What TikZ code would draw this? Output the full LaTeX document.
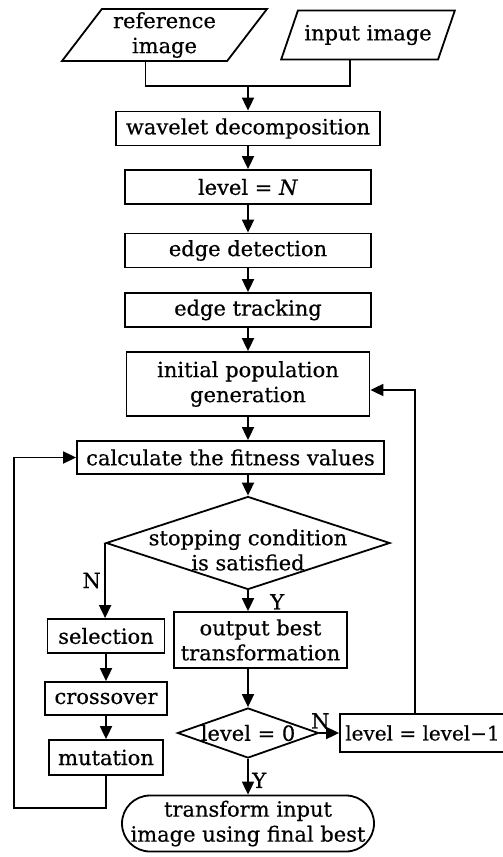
\documentclass[tikz,border=0pt]{standalone}
\usepackage{fontspec}
\setmainfont{DejaVu Serif}[FakeBold=0.5]
\usetikzlibrary{arrows.meta,shapes.geometric,positioning}

\begin{document}
\begin{tikzpicture}[
    x=1pt, y=-1pt,
    font=\fontsize{21}{25}\selectfont,
    line width=1.8pt,
    process node/.style={rectangle,draw,minimum height=34pt,inner sep=2pt,align=center},
    data node/.style={trapezium,trapezium left angle=55,trapezium right angle=125,trapezium stretches=true,draw,inner sep=1pt,align=center},
    decision node/.style={diamond,draw,inner sep=0pt},
    end node/.style={rectangle,rounded corners=28pt,draw,minimum height=56pt,inner sep=2pt,align=center},
    flow/.style={-{Triangle[length=13pt,width=12pt]}}]

  \useasboundingbox (0,0) rectangle (503,857);

  \node[data node,minimum width=205pt,minimum height=52pt] (ref) at (164.5,35) {reference\\image};
  \node[data node,minimum width=174pt,minimum height=49pt] (input) [right of=ref,node distance=203.5pt] {input image};
  \node[process node,minimum width=264pt] (wavelet) at (248,128.5) {wavelet decomposition};
  \node[process node,minimum width=246pt] (levelN) [below of=wavelet,node distance=58.5pt] {level = \textit{N}};
  \node[process node,minimum width=246pt] (detect) [below of=levelN,node distance=63.5pt] {edge detection};
  \node[process node,minimum width=246pt] (track) [below of=detect,node distance=59.5pt] {edge tracking};
  \node[process node,minimum width=243pt,minimum height=64pt] (initpop) [below of=track,node distance=74pt] {initial population\\generation};
  \node[process node,minimum width=307pt,minimum height=33pt] (fitness) [below of=initpop,node distance=73.5pt,xshift=-17.5pt] {calculate the fitness values};
  \node[decision node,minimum width=284pt,minimum height=93pt,
        label={[align=center,yshift=-7pt]center:stopping condition\\is satisfied}] (stop) [below of=fitness,node distance=85.5pt,xshift=17.5pt] {};
  \node[process node,minimum width=117pt] (select) [below of=stop,node distance=93pt,xshift=-142pt] {selection};
  \node[process node,minimum width=122pt,minimum height=33pt] (cross) [below of=select,node distance=62.5pt] {crossover};
  \node[process node,minimum width=114pt,minimum height=35pt] (mutate) [below of=cross,node distance=59pt] {mutation};
  \node[process node,minimum width=173pt,minimum height=56pt] (output) [below of=stop,node distance=97pt,xshift=12.5pt] {output best\\transformation};
  \node[decision node,minimum width=141pt,minimum height=50pt,label=center:{level = 0}] (zero) [below of=stop,node distance=190pt] {};
  \node[process node,minimum width=165pt,minimum height=38pt,font=\fontsize{20}{25}\selectfont] (decrease) [right of=zero,node distance=174.5pt] {level = level−1};
  \node[end node,minimum width=252pt] (final) [below of=zero,node distance=90.5pt] {transform input\\image using final best};

  % merge of the two inputs
  \coordinate (join) at (248,86);
  \draw ([xshift=-19pt]ref.south) |- (join) -| ([xshift=-18pt]input.south);

  \path
    (join) edge[flow] (wavelet)
    (wavelet) edge[flow] (levelN)
    (levelN) edge[flow] (detect)
    (detect) edge[flow] (track)
    (track) edge[flow] (initpop)
    (select) edge[flow] (cross)
    (cross) edge[flow] (mutate)
    (zero) edge[flow] node[right,pos=0.6] {Y} (final)
    (zero) edge[flow] node[above,pos=0.05] {N} (decrease);

  \draw[flow] (initpop.south) -- (initpop.south |- fitness.north);
  \draw[flow] (fitness.south -| stop.north) -- (stop.north);
  \draw[flow] (stop.south) -- node[right=18pt,pos=0.55] {Y} (stop.south |- output.north);
  \draw[flow] (stop.west) -- node[left,pos=0.5] {N} (stop.west |- select.north);
  \draw[flow] (output.south -| zero.north) -- (zero.north);

  % loops back
  \draw[flow] (mutate.south) |- ++(-92,32) |- (fitness.west);
  \draw[flow] ([xshift=-7.5pt]decrease.north) |- ([yshift=-6pt]initpop.east);
\end{tikzpicture}
\end{document}
